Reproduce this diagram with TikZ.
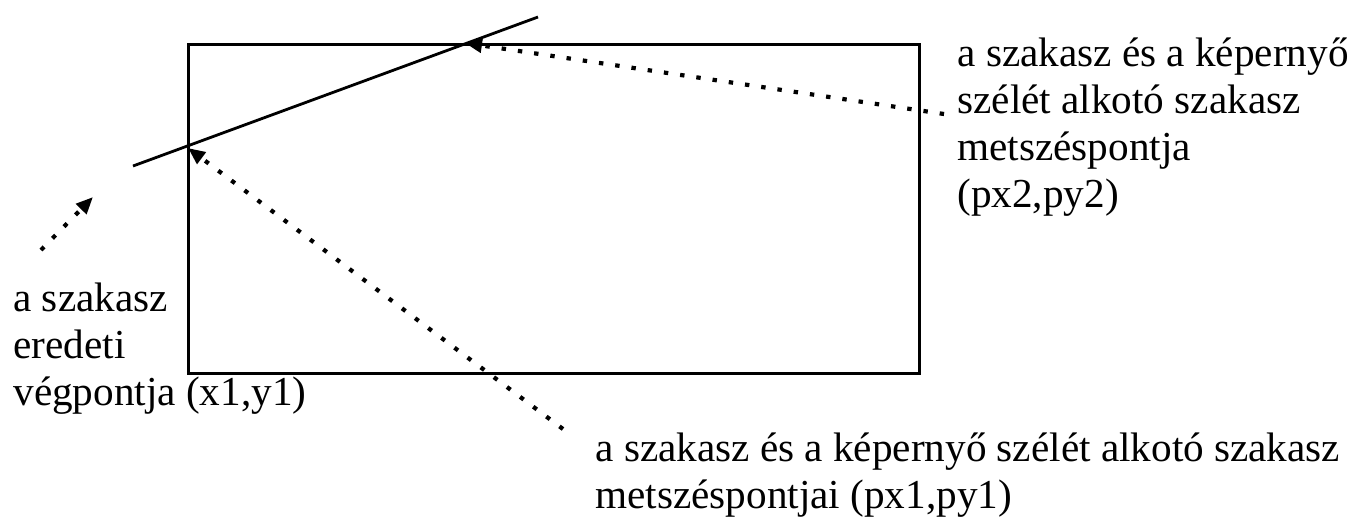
\documentclass[tikz,border=0pt]{standalone}
\usepackage{fontspec}
\setmainfont{Liberation Serif}
\usetikzlibrary{arrows.meta}
\begin{document}
\begin{tikzpicture}[x=0.5pt,y=-0.5pt,
  solidline/.style={line width=1.4pt},
  dotline/.style={line width=2.1pt, dash pattern=on 2.2pt off 6pt, -{Triangle[length=8.5pt,width=7pt]}},
  label/.style={font=\fontsize{20.6pt}{23.5pt}\selectfont, align=left, inner sep=0pt, anchor=base west}]
\useasboundingbox (0,0) rectangle (1352,516);
\node[draw, solidline, minimum width=365.5pt, minimum height=164.5pt, inner sep=0pt, anchor=north west] (scr) at (187,43) {};
\coordinate (a) at (133,166);
\coordinate (b) at (538,17);
\coordinate (p1) at (188,148);
\coordinate (p2) at (465,43);
\coordinate (q) at (93,197);
\draw[solidline] (a) -- (b);
\node[label] (t2) at (957,207) {a szakasz és a képernyő\\szélét alkotó szakasz\\metszéspontja\\(px2,py2)};
\node[label] (t1) at (595,508) {a szakasz és a képernyő szélét alkotó szakasz\\metszéspontjai (px1,py1)};
\node[label] (t0) at (13,405) {a szakasz\\eredeti\\végpontja (x1,y1)};
\coordinate (s2) at (944,114);
\coordinate (s1) at (563,429);
\coordinate (s0) at (41,250);
\draw[dotline] (s2) -- (p2);
\draw[dotline] (s1) -- (p1);
\draw[dotline] (s0) -- (q);
\end{tikzpicture}
\end{document}
